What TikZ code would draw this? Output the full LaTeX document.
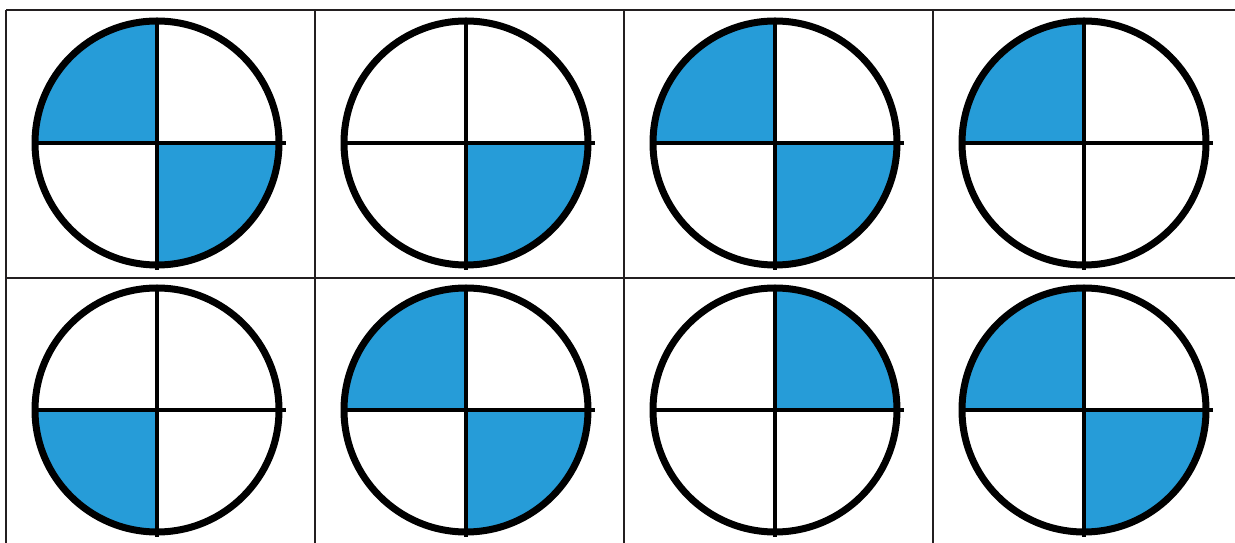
\documentclass[tikz,border=0pt]{standalone}
\definecolor{qblue}{RGB}{38,156,216}
\definecolor{gridc}{RGB}{35,31,32}
\tikzset{
  gridline/.style={draw=gridc, line width=2pt},
  ring/.style={draw=black, line width=7pt},
  crossline/.style={draw=black, line width=3.4pt},
}
\newcommand{\qfill}[3]{\fill[qblue] (#1,#2) -- ++(#3:122) arc[start angle=#3, end angle=#3+90, radius=122] -- cycle;}
\newcommand{\wheel}[2]{%
  \draw[ring] (#1,#2) circle[radius=122];
  \draw[crossline] (#1-121,#2) -- (#1+129,#2);
  \draw[crossline] (#1,#2+125) -- (#1,#2-127);
}
\begin{document}
\begin{tikzpicture}[x=1pt,y=1pt]
\useasboundingbox (0,0) rectangle (1235,543);
\fill[white] (0,0) rectangle (1235,543);
% grid
\draw[gridline] (6,533) -- (1235,533);
\draw[gridline] (6,265) -- (1235,265);
\foreach \gx in {6,315,624,933} \draw[gridline] (\gx,533) -- (\gx,0);
% row 1 (cy = 400)
\qfill{157}{400}{90}\qfill{157}{400}{270}
\qfill{466}{400}{270}
\qfill{775}{400}{90}\qfill{775}{400}{270}
\qfill{1084}{400}{90}
% row 2 (cy = 133)
\qfill{157}{133}{180}
\qfill{466}{133}{90}\qfill{466}{133}{270}
\qfill{775}{133}{0}
\qfill{1084}{133}{90}\qfill{1084}{133}{270}
\foreach \cx in {157,466,775,1084}{\wheel{\cx}{400}\wheel{\cx}{133}}
\end{tikzpicture}
\end{document}
